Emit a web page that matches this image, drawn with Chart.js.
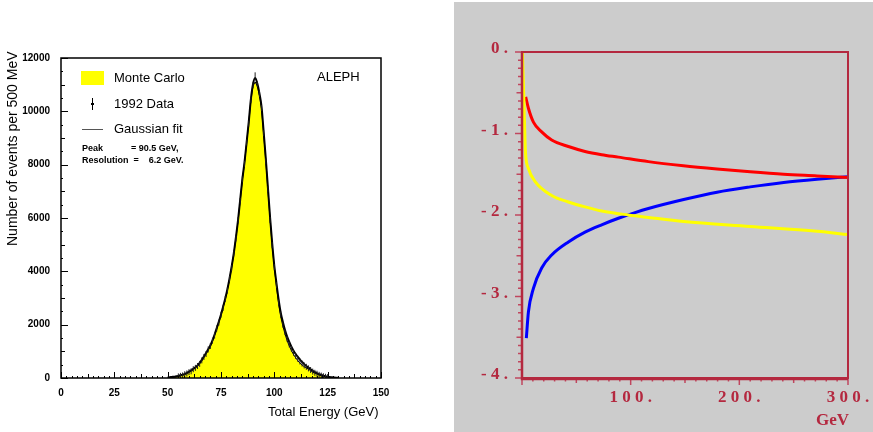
<!DOCTYPE html>
<html>
<head>
<meta charset="utf-8">
<script src="https://cdn.jsdelivr.net/npm/chart.js@4"></script>
<style>
  html, body { margin: 0; padding: 0; background: #fff; }
  #page { position: relative; width: 873px; height: 432px; overflow: hidden; font-family: "Liberation Sans", Arial, sans-serif; }
  #left { position: absolute; left: 0; top: 0; width: 450px; height: 432px; }
  #rightBox { position: absolute; left: 454px; top: 2px; width: 419px; height: 430px; background: #cccccc; }
  #right { position: absolute; left: 0; top: 0; width: 419px; height: 430px; }
  .txt { position: absolute; white-space: nowrap; color: #000; }
  .leg { font-size: 13px; }
  .small { font-size: 9px; font-weight: bold; }
  .crim { color: #b4283f; font-family: "Liberation Serif", "Times New Roman", serif; font-weight: bold; font-size: 17px; }
</style>
</head>
<body>
<div id="page">
  <canvas id="left" width="450" height="432"></canvas>
  <div id="rightBox"><canvas id="right" width="419" height="430"></canvas></div>

  <div class="txt" style="left:4px; top:246px; font-size:14px; transform-origin:0 0; transform: rotate(-90deg);">Number of events per 500 MeV</div>
  <div class="txt leg" style="left:268px; top:404px;">Total Energy (GeV)</div>

  <div style="position:absolute; left:81px; top:71px; width:23px; height:14px; background:#ffff00;"></div>
  <div class="txt leg" style="left:114px; top:70px;">Monte Carlo</div>
  <div style="position:absolute; left:92px; top:98px; width:1px; height:12px; background:#000;"></div>
  <div style="position:absolute; left:91px; top:103px; width:3px; height:2px; background:#000;"></div>
  <div class="txt leg" style="left:114px; top:96px;">1992 Data</div>
  <div style="position:absolute; left:82px; top:129px; width:21px; height:1px; background:#555;"></div>
  <div class="txt leg" style="left:114px; top:121px;">Gaussian fit</div>
  <div class="txt small" style="left:82px; top:143px;">Peak</div>
  <div class="txt small" style="left:131px; top:143px;">= 90.5 GeV,</div>
  <div class="txt small" style="left:82px; top:155px;">Resolution&nbsp;&nbsp;=&nbsp;&nbsp;&nbsp;&nbsp;6.2 GeV.</div>
  <div class="txt leg" style="left:317px; top:69px;">ALEPH</div>

  <div class="txt crim" style="left:816px; top:410px;">GeV</div>
</div>

<script>
// ---- left panel: ALEPH total energy ----
const energy = [50, 51, 52, 53, 54, 55, 56, 57, 58, 59, 60, 61, 62, 63, 64, 65, 66, 67, 68, 69,
  70, 71, 72, 73, 74, 75, 76, 77, 78, 79, 80, 81, 82, 83, 84, 85, 86, 87, 88, 89,
  90, 91, 92, 93, 94, 95, 96, 97, 98, 99, 100, 101, 102, 103, 104, 105, 106, 107, 108, 109,
  110, 111, 112, 113, 114, 115, 116, 117, 118, 119, 120, 121, 122, 123, 124, 125, 126, 127, 128, 129, 130];
const monteCarlo = [10, 15, 20, 30, 40, 55, 75, 100, 130, 165, 210, 260, 320, 375, 445, 540, 650, 780, 910, 1050,
  1190, 1380, 1600, 1840, 2090, 2350, 2650, 2950, 3300, 3700, 4150, 4650, 5250, 5900, 6660, 7420, 8050, 8800, 9560, 10400,
  10950, 11100, 10950, 10600, 10100, 9150, 8150, 7050, 5950, 4950, 4150, 3450, 2780, 2300, 1950, 1650, 1400, 1200, 1030, 880,
  760, 650, 560, 490, 430, 380, 330, 275, 220, 180, 150, 110, 80, 60, 40, 30, 20, 15, 10, 5, 0];
const gaussFit = [20, 30, 40, 50, 65, 80, 100, 125, 155, 190, 235, 285, 345, 405, 475, 570, 680, 810, 940, 1080,
  1220, 1410, 1630, 1870, 2120, 2380, 2680, 2980, 3330, 3730, 4180, 4680, 5280, 5930, 6690, 7450, 8080, 8830, 9600, 10450,
  11020, 11250, 11050, 10680, 10180, 9230, 8230, 7130, 6030, 5050, 4200, 3550, 2950, 2450, 2100, 1800, 1550, 1350, 1170, 1020,
  900, 790, 690, 600, 520, 450, 390, 330, 270, 220, 180, 140, 110, 85, 65, 50, 38, 28, 20, 14, 10];
const dataE = [55, 56, 57, 58, 59, 60, 61, 62, 63, 64, 65, 66, 67, 68, 69, 70, 71, 72, 73, 74,
  75, 76, 77, 78, 79, 80, 81, 82, 83, 84, 85, 86, 87, 88, 89, 90, 91, 92, 93, 94,
  95, 96, 97, 98, 99, 100, 101, 102, 103, 104, 105, 106, 107, 108, 109, 110, 111, 112, 113, 114,
  115, 116, 117, 118, 119, 120, 121, 122, 123, 124, 125];
const data1992 = [60, 80, 95, 140, 170, 220, 250, 330, 380, 450, 530, 660, 790, 900, 1070, 1200, 1400, 1590, 1860, 2080,
  2370, 2630, 2970, 3280, 3720, 4130, 4670, 5230, 5920, 6640, 7450, 8030, 8830, 9540, 10430, 10980, 11350, 11020, 10650, 10120,
  9180, 8120, 7080, 5930, 4980, 4160, 3480, 2830, 2380, 2000, 1720, 1470, 1260, 1100, 950, 830, 720, 620, 540, 470,
  420, 360, 300, 240, 195, 160, 120, 90, 65, 45, 35];

// ---- right panel: three curves vs GeV ----
const redX = [3.4, 5.9, 10.5, 18.1, 27.3, 42.7, 58, 73.3, 88.7, 116.3, 148.5, 179.5, 210, 240.8, 271.5, 300];
const redY = [-0.55, -0.69, -0.86, -0.98, -1.08, -1.16, -1.22, -1.26, -1.29, -1.345, -1.395, -1.435, -1.47, -1.50, -1.52, -1.54];
const yellowX = [0.4, 1.6, 2.9, 3.4, 5.9, 12.1, 27.3, 42.7, 58, 73.3, 97.9, 116.3, 148.8, 210, 271.5, 300];
const yellowY = [0, -0.53, -1.14, -1.27, -1.43, -1.59, -1.76, -1.84, -1.90, -1.95, -2.00, -2.03, -2.08, -2.14, -2.20, -2.24];
const blueX = [4, 5.9, 10.5, 18.1, 27.3, 42.7, 58, 73.3, 88.7, 104, 116.3, 148.8, 179.5, 210, 240.8, 271.5, 300];
const blueY = [-3.51, -3.19, -2.90, -2.65, -2.49, -2.33, -2.21, -2.12, -2.04, -1.97, -1.92, -1.81, -1.72, -1.655, -1.60, -1.56, -1.53];
const leftYLabels = ['0', '2000', '4000', '6000', '8000', '10000', '12000'];
const leftXLabels = ['0', '25', '50', '75', '100', '125', '150'];
const rightYLabels = ['- 4 .', '- 3 .', '- 2 .', '- 1 .', '0 .'];
const rightXLabels = ['', '1 0 0 .', '2 0 0 .', '3 0 0 .'];

const pts = (xs, ys) => xs.map((x, i) => ({ x: x, y: ys[i] }));

// frame + ticks drawn on the scales
const leftFrame = {
  id: 'leftFrame',
  afterDraw(chart) {
    const { ctx, chartArea: a, scales: { x, y } } = chart;
    ctx.save();
    ctx.strokeStyle = '#000';
    ctx.lineWidth = 1;
    ctx.beginPath();
    for (let v = 0; v <= 150; v += 2.5) {
      const px = Math.round(x.getPixelForValue(v)) + 0.5;
      const len = v % 25 === 0 ? 6 : (v % 12.5 === 0 ? 4 : 2);
      ctx.moveTo(px, a.bottom); ctx.lineTo(px, a.bottom - len);
    }
    for (let v = 0; v <= 12000; v += 500) {
      const py = Math.round(y.getPixelForValue(v)) + 0.5;
      const len = v % 2000 === 0 ? 7 : (v % 1000 === 0 ? 4 : 2);
      ctx.moveTo(a.left, py); ctx.lineTo(a.left + len, py);
    }
    ctx.stroke();
    ctx.lineWidth = 1.5;
    ctx.strokeRect(a.left, a.top, a.right - a.left, a.bottom - a.top);
    ctx.restore();
  }
};

const rightFrame = {
  id: 'rightFrame',
  afterDraw(chart) {
    const { ctx, chartArea: a, scales: { x, y } } = chart;
    ctx.save();
    ctx.strokeStyle = '#c0475f';
    ctx.lineWidth = 1.5;
    ctx.beginPath();
    for (let v = 0; v <= 300; v += 10) {
      const px = x.getPixelForValue(v);
      const len = v % 100 === 0 ? 7 : (v % 50 === 0 ? 5 : 3.5);
      ctx.moveTo(px, a.bottom); ctx.lineTo(px, a.bottom + len);
    }
    for (let i = 0; i <= 40; i++) {
      const v = -i / 10;
      const py = y.getPixelForValue(v);
      const len = i % 10 === 0 ? 7 : (i % 5 === 0 ? 5.5 : 4);
      ctx.moveTo(a.left, py); ctx.lineTo(a.left - len, py);
    }
    ctx.stroke();
    ctx.strokeStyle = '#b4283f';
    ctx.lineWidth = 2;
    ctx.strokeRect(a.left, a.top, a.right - a.left, a.bottom - a.top);
    ctx.lineWidth = 2.5;
    ctx.beginPath();
    ctx.moveTo(a.left, a.top); ctx.lineTo(a.left, a.bottom + 1); ctx.lineTo(a.right, a.bottom + 1);
    ctx.stroke();
    ctx.restore();
  }
};

new Chart(document.getElementById('left').getContext('2d'), {
  type: 'line',
  data: {
    datasets: [
      {
        type: 'scatter',
        label: '1992 Data',
        data: pts(dataE, data1992),
        pointStyle: 'line',
        rotation: 90,
        pointRadius: 3,
        borderWidth: 1,
        borderColor: '#222',
        order: 1
      },
      {
        label: 'Gaussian fit',
        data: pts(energy, gaussFit),
        borderColor: '#000',
        borderWidth: 2,
        pointRadius: 0,
        fill: false,
        cubicInterpolationMode: 'monotone',
        order: 2
      },
      {
        label: 'Monte Carlo',
        data: pts(energy, monteCarlo),
        borderColor: '#000',
        borderWidth: 1,
        backgroundColor: '#ffff00',
        pointRadius: 0,
        fill: 'origin',
        order: 3
      }
    ]
  },
  options: {
    responsive: false,
    animation: false,
    layout: { padding: { top: 58, right: 69, left: 0, bottom: 0 } },
    plugins: { legend: { display: false }, tooltip: { enabled: false } },
    scales: {
      x: {
        type: 'linear', min: 0, max: 150,
        grid: { display: false, drawTicks: false }, border: { display: false },
        afterFit: (s) => { s.height = 54; },
        ticks: { stepSize: 25, padding: 9, maxRotation: 0, color: '#000',
          font: { family: 'Liberation Sans', size: 10, weight: 'bold' },
          callback: (v) => leftXLabels[v / 25] }
      },
      y: {
        min: 0, max: 12000,
        grid: { display: false, drawTicks: false }, border: { display: false },
        afterFit: (s) => { s.width = 61; },
        ticks: { stepSize: 2000, padding: 11, color: '#000',
          font: { family: 'Liberation Sans', size: 10, weight: 'bold' },
          callback: (v) => leftYLabels[v / 2000] }
      }
    }
  },
  plugins: [leftFrame]
});

new Chart(document.getElementById('right').getContext('2d'), {
  type: 'line',
  data: {
    datasets: [
      { label: 'yellow', data: pts(yellowX, yellowY), borderColor: '#ffff00' },
      { label: 'red', data: pts(redX, redY), borderColor: '#ff0000' },
      { label: 'blue', data: pts(blueX, blueY), borderColor: '#0000ff' }
    ]
  },
  options: {
    responsive: false,
    animation: false,
    layout: { padding: { top: 50, right: 25, left: 0, bottom: 0 } },
    elements: {
      point: { radius: 0 },
      line: { borderWidth: 3, cubicInterpolationMode: 'monotone', fill: false }
    },
    plugins: { legend: { display: false }, tooltip: { enabled: false } },
    scales: {
      x: {
        type: 'linear', min: 0, max: 300,
        grid: { display: false }, border: { display: false },
        afterFit: (s) => { s.height = 54; },
        ticks: { stepSize: 100, padding: 1, maxRotation: 0, color: '#b4283f',
          font: { family: 'Liberation Serif', size: 17, weight: 'bold' },
          callback: (v) => rightXLabels[v / 100] }
      },
      y: {
        min: -4, max: 0,
        grid: { display: false }, border: { display: false },
        afterFit: (s) => { s.width = 68; },
        ticks: { stepSize: 1, padding: 6, labelOffset: -3, color: '#b4283f',
          font: { family: 'Liberation Serif', size: 17, weight: 'bold' },
          callback: (v) => rightYLabels[v + 4] }
      }
    }
  },
  plugins: [rightFrame]
});
</script>
</body>
</html>
